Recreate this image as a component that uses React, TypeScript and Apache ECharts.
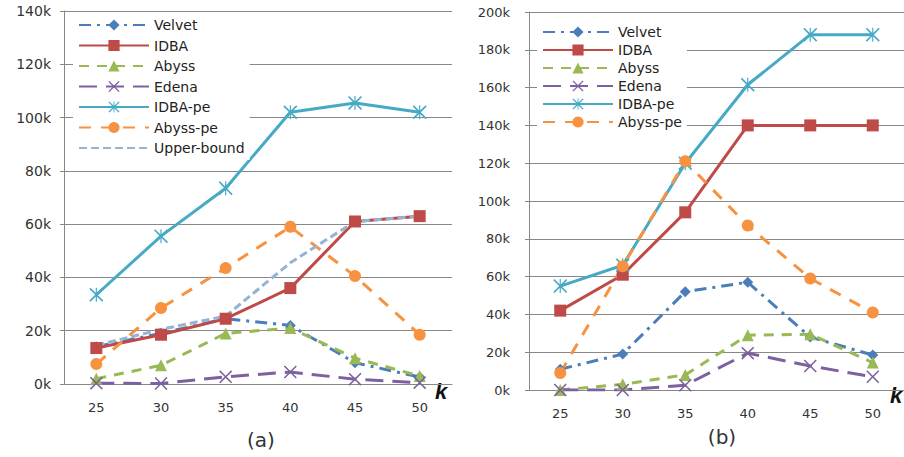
import React, { useEffect, useRef } from "react";
import * as echarts from "echarts";

const categories = ["25", "30", "35", "40", "45", "50"];
const yTicksA = [0, 140, 20];
const yTicksB = [0, 200, 20];

// panel (a), values in thousands
const velvetA = [14, 19, 24.5, 22, 8, 2.6];
const idbaA = [13.5, 18.5, 24.5, 36, 61, 63];
const abyssA = [2, 7, 19, 21, 9.7, 3];
const edenaA = [0.3, 0.2, 2.7, 4.5, 1.8, 0.5];
const idbaPeA = [33.5, 55.5, 73.5, 102, 105.5, 102];
const abyssPeA = [7.5, 28.5, 43.5, 59, 40.5, 18.5];
const upperA = [14.5, 20.5, 25.5, 45.5, 61, 63];

// panel (b), values in thousands
const velvetB = [11, 19, 52, 57, 28, 18.5];
const idbaB = [42, 61, 94, 140, 140, 140];
const abyssB = [0, 3, 8, 29, 29.5, 14.5];
const edenaB = [0, 0, 2.5, 19.5, 12.7, 7];
const idbaPeB = [55, 66, 120, 161.5, 188, 188];
const abyssPeB = [9, 65.5, 121, 87, 59, 41];

const legendA = ["Velvet", "IDBA", "Abyss", "Edena", "IDBA-pe", "Abyss-pe", "Upper-bound"];
const legendB = ["Velvet", "IDBA", "Abyss", "Edena", "IDBA-pe", "Abyss-pe"];

const X_PATH = "path://M0,1 L1,0 L6,5 L11,0 L12,1 L7,6 L12,11 L11,12 L6,7 L1,12 L0,11 L5,6 Z";
const STAR_PATH =
  "path://M0,1 L1,0 L6,5 L11,0 L12,1 L7,6 L12,11 L11,12 L6,7 L1,12 L0,11 L5,6 Z M5.5,0 L6.5,0 L6.5,12 L5.5,12 Z";

const FONT = "DejaVu Sans";
const GRID_COLOR = "#888888";

const styles: Record<string, any> = {
  Velvet: { color: "#4a7ebb", symbol: "diamond", symbolSize: 11, type: [12, 6, 3, 6] },
  IDBA: { color: "#be4b48", symbol: "rect", symbolSize: 12, type: "solid" },
  Abyss: { color: "#98b954", symbol: "triangle", symbolSize: 12, type: [10, 8] },
  Edena: { color: "#7d60a0", symbol: X_PATH, symbolSize: 13, type: [18, 9] },
  "IDBA-pe": { color: "#46aac5", symbol: STAR_PATH, symbolSize: 14, type: "solid" },
  "Abyss-pe": { color: "#f69240", symbol: "circle", symbolSize: 12, type: [12, 10] },
  "Upper-bound": { color: "#95b3d7", symbol: "none", symbolSize: 0, type: [8, 4] },
};

function makeSeries(name: string, data: number[], idx: number) {
  const s = styles[name];
  return {
    type: "line",
    name,
    data,
    xAxisIndex: idx,
    yAxisIndex: idx,
    symbol: s.symbol,
    symbolSize: s.symbolSize,
    showSymbol: s.symbol !== "none",
    lineStyle: { color: s.color, width: 3, type: s.type },
    itemStyle: { color: s.color, borderWidth: 0 },
    emphasis: { disabled: true },
  };
}

export default function App() {
  const ref = useRef<HTMLDivElement>(null);
  useEffect(() => {
    if (!ref.current) return;
    const chart = echarts.init(ref.current, undefined, { renderer: "svg" });
    const xAxis = (gridIndex: number) => ({
      type: "category",
      gridIndex,
      data: categories,
      boundaryGap: true,
      axisLine: { show: true, lineStyle: { color: GRID_COLOR, width: 1 } },
      axisTick: { show: false },
      axisLabel: { color: "#333", fontFamily: FONT, fontSize: 13, margin: 17 },
    });
    const yAxis = (gridIndex: number, t: number[], margin: number, fs: number) => ({
      type: "value",
      gridIndex,
      min: t[0],
      max: t[1],
      interval: t[2],
      axisLine: { show: true, lineStyle: { color: GRID_COLOR, width: 1 } },
      axisTick: { show: true, length: 4, lineStyle: { color: GRID_COLOR } },
      splitLine: { show: true, lineStyle: { color: GRID_COLOR, width: 1 } },
      axisLabel: {
        color: "#333",
        fontFamily: FONT,
        fontSize: fs,
        margin,
        formatter: (v: number) => `${v}k`,
      },
    });
    const legendCommon = {
      orient: "vertical",
      backgroundColor: "#ffffff",
      itemWidth: 70,
      itemHeight: 14,
      selectedMode: false,
      textStyle: { fontFamily: FONT, fontSize: 14, color: "#222" },
    };
    const legendDataA = legendA.map((n) =>
      n === "Upper-bound" ? { name: n, itemStyle: { opacity: 0 } } : { name: n }
    );
    chart.setOption({
      animation: false,
      grid: [
        { left: 64, top: 11, width: 388, height: 373, containLabel: false },
        { left: 529, top: 12, width: 386, height: 378, containLabel: false },
      ],
      xAxis: [xAxis(0), xAxis(1)],
      yAxis: [yAxis(0, yTicksA, 13, 14), yAxis(1, yTicksB, 19, 13)],
      legend: [
        { ...legendCommon, data: legendDataA, left: 73, top: 13, itemGap: 6.5, padding: [5, 5, 5, 5] },
        { ...legendCommon, data: legendB, left: 537, top: 20, itemGap: 4, padding: [5, 5, 5, 5] },
      ],
      graphic: [
        { type: "text", x: 441, y: 391, style: { text: "k", font: "italic bold 22px 'Liberation Sans'", fill: "#111", align: "center", verticalAlign: "middle" } },
        { type: "text", x: 896, y: 395, style: { text: "k", font: "italic bold 22px 'Liberation Sans'", fill: "#111", align: "center", verticalAlign: "middle" } },
        { type: "text", x: 261, y: 440, style: { text: "(a)", font: "20px 'DejaVu Sans'", fill: "#333", align: "center", verticalAlign: "middle" } },
        { type: "text", x: 722, y: 437, style: { text: "(b)", font: "20px 'DejaVu Sans'", fill: "#333", align: "center", verticalAlign: "middle" } },
      ],
      series: [
        makeSeries("Velvet", velvetA, 0),
        makeSeries("IDBA", idbaA, 0),
        makeSeries("Abyss", abyssA, 0),
        makeSeries("Edena", edenaA, 0),
        makeSeries("IDBA-pe", idbaPeA, 0),
        makeSeries("Abyss-pe", abyssPeA, 0),
        makeSeries("Upper-bound", upperA, 0),
        makeSeries("Velvet", velvetB, 1),
        makeSeries("IDBA", idbaB, 1),
        makeSeries("Abyss", abyssB, 1),
        makeSeries("Edena", edenaB, 1),
        makeSeries("IDBA-pe", idbaPeB, 1),
        makeSeries("Abyss-pe", abyssPeB, 1),
      ],
    });
    return () => chart.dispose();
  }, []);
  return (
    <div
      ref={ref}
      style={{ position: "fixed", left: 0, top: 0, width: 904, height: 457, background: "#fff" }}
    />
  );
}
